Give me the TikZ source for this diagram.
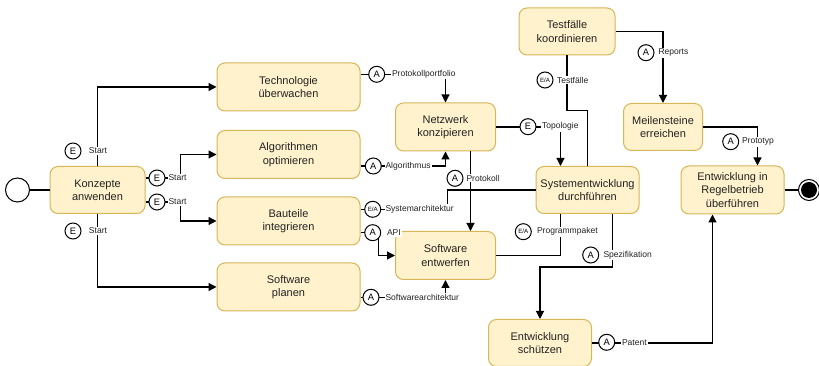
\documentclass[tikz,border=0pt]{standalone}
\usepackage{fontspec}
\setmainfont{Liberation Sans}
\usetikzlibrary{arrows.meta,calc}

\definecolor{taskfill}{RGB}{255,242,204}
\definecolor{taskline}{RGB}{214,182,86}
\definecolor{inktext}{RGB}{34,34,34}

\tikzset{every picture/.style={line width=0.75pt}}
\tikzset{
  task/.style={draw=taskline, fill=taskfill, rounded corners=6pt, align=center,
    inner sep=0pt, text=inktext, font=\fontsize{8.25}{10}\selectfont},
  flow/.style={line width=0.9pt, -{Triangle[length=6pt,width=6pt]}},
  link/.style={line width=0.9pt},
  tag/.style={circle, draw, fill=white, minimum size=12pt, inner sep=0pt,
    font=\fontsize{7}{7}\selectfont},
  tagio/.style={tag, font=\fontsize{4.6}{4.6}\selectfont},
  note/.style={fill=white, inner sep=0.75pt, anchor=west, text=inktext,
    font=\fontsize{6.4}{7}\selectfont},
}

\begin{document}
\begin{tikzpicture}[x=0.75pt,y=0.75pt,yscale=-1,xscale=1]
    \useasboundingbox (0,0) rectangle (819,366);

    % start / end events
    \node [circle, draw, minimum size=18pt, inner sep=0pt] (startev) at (17.5,190) {};
    \node [circle, draw, fill=white, minimum size=15.75pt, inner sep=0pt] (endev) at (809,190) {};
    \fill (endev.center) circle (6pt);

    % tasks
    \node [task, minimum width=71.25pt, minimum height=35.25pt] (konz) at (97.5,190) {Konzepte\\anwenden};
    \node [task, minimum width=107.25pt, minimum height=36pt] (techn) at (288.5,87) {Technologie\\überwachen};
    \node [task, minimum width=107.25pt, minimum height=36pt] (algo) at (288.5,154.5) {Algorithmen\\optimieren};
    \node [task, minimum width=107.25pt, minimum height=36pt] (baut) at (288.5,221) {Bauteile\\integrieren};
    \node [task, minimum width=107.25pt, minimum height=36pt] (swplan) at (288.5,287) {Software\\planen};
    \node [task, minimum width=75pt, minimum height=36pt] (netz) at (445.5,127) {Netzwerk\\konzipieren};
    \node [task, minimum width=75pt, minimum height=36pt] (swentw) at (445.5,255.5) {Software\\entwerfen};
    \node [task, minimum width=72pt, minimum height=35.25pt] (test) at (567,31.5) {Testfälle\\koordinieren};
    \node [task, minimum width=59.25pt, minimum height=35.25pt] (meil) at (663,127) {Meilensteine\\erreichen};
    \node [task, minimum width=77.25pt, minimum height=35.25pt] (syst) at (587.5,190) {Systementwicklung\\durchführen};
    \node [task, minimum width=77.25pt, minimum height=35.25pt] (schutz) at (540,343) {Entwicklung\\schützen};
    \node [task, minimum width=77.25pt, minimum height=36pt] (regel) at (732.5,190) {Entwicklung in\\Regelbetrieb\\überführen};

    % connectors
    \draw [link] (startev) -- (konz);
    \draw [link] (regel) -- (endev);
    \draw [flow] (konz.north) |- (techn.west);
    \draw [flow] ($(konz.east)+(0,-12)$) -- ++(35,0) |- (algo.west);
    \draw [flow] ($(konz.east)+(0,12)$) -- ++(35,0) |- (baut.west);
    \draw [flow] (konz.south) |- (swplan.west);
    \draw [flow] ($(techn.east)+(0,-12.7)$) -| (netz.north);
    \draw [flow] ($(algo.east)+(0,11.5)$) -| (netz.south);
    \draw [flow] ($(netz.south)+(25,0)$) -- ($(swentw.north)+(25,0)$);
    \draw [flow] (netz.east) -| ($(syst.north)+(-27,0)$);
    \draw [link] (test.south) -- ++(0,55) -| (syst.north);
    \draw [flow] (test.east) -| (meil.north);
    \draw [flow] (meil.east) -| ($(regel.north)+(25,0)$);
    \draw [flow] (schutz.east) -| ($(regel.south)+(-20,0)$);
    \draw [link] ($(syst.south)+(-27,0)$) |- (swentw.east);
    \draw [flow] ($(syst.south)+(25,0)$) -- ++(0,53) -| (schutz.north);
    \draw [link] ($(baut.east)+(0,-11.7)$) -- ++(87,0) |- (syst.west);
    \draw [flow] ($(baut.east)+(0,11.7)$) -- ++(17.7,0) |- (swentw.west);
    \draw [flow] ($(swplan.east)+(0,10.3)$) -| (swentw.south);

    % connector labels
    \node [tag] (e1) at (73,151) {E};
    \node [note, anchor=center] (l1) at (98,151) {Start};
    \node [tag] (e2) at (157,178) {E};
    \node [note] (l2) at (167,178) {Start};
    \node [tag] (e3) at (157,202) {E};
    \node [note] (l3) at (167,202) {Start};
    \node [tag] (e4) at (73,231) {E};
    \node [note, anchor=center] (l4) at (98,231) {Start};
    \node [tag] (a1) at (376.7,74.3) {A};
    \node [note] (l5) at (390.5,74.3) {Protokollportfolio};
    \node [tag] (a2) at (373.3,166) {A};
    \node [note] (l6) at (384,166) {Algorithmus};
    \node [tag] (a3) at (455,178.3) {A};
    \node [note] (l7) at (465,178.3) {Protokoll};
    \node [tag] (e5) at (528,126.7) {E};
    \node [note] (l8) at (540.5,126.7) {Topologie};
    \node [tagio] (ea1) at (545,80) {E/A};
    \node [note] (l9) at (555.5,80) {Testfälle};
    \node [tag] (a4) at (646,52.7) {A};
    \node [note] (l10) at (657,52.7) {Reports};
    \node [tag] (a5) at (730.7,141.7) {A};
    \node [note] (l11) at (740.5,141.7) {Prototyp};
    \node [tag] (a6) at (606.7,342.3) {A};
    \node [note] (l12) at (620.5,342.3) {Patent};
    \node [tagio] (ea2) at (523.3,231.7) {E/A};
    \node [note] (l13) at (535.5,231.7) {Programmpaket};
    \node [tag] (a7) at (590.7,255) {A};
    \node [note] (l14) at (602,255) {Spezifikation};
    \node [tagio] (ea3) at (372.7,209.3) {E/A};
    \node [note] (l15) at (384,209.3) {Systemarchitektur};
    \node [tag] (a8) at (372.7,232.7) {A};
    \node [note] (l16) at (385.5,232.7) {API};
    \node [tag] (a9) at (371,297.3) {A};
    \node [note] (l17) at (384,297.3) {Softwarearchitektur};

\end{tikzpicture}
\end{document}
